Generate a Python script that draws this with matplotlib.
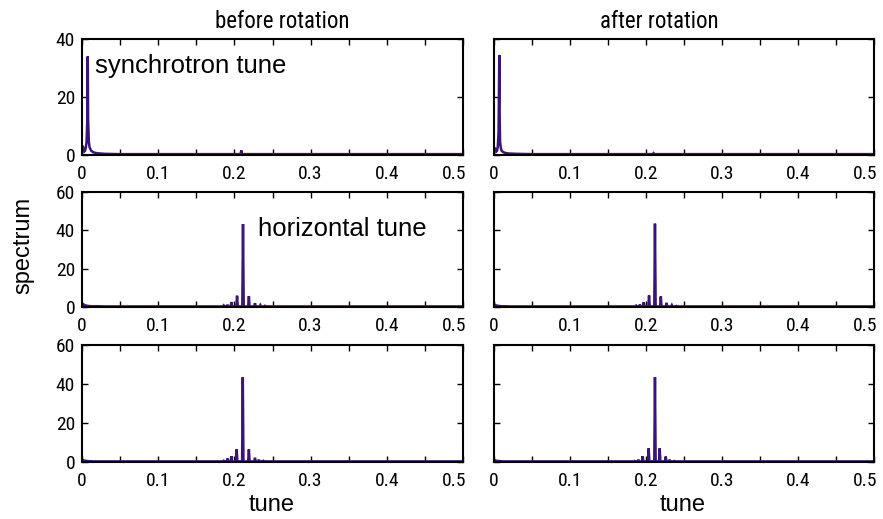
import matplotlib

matplotlib.use("Agg")

import matplotlib.pyplot as plt
from matplotlib.ticker import MultipleLocator
from matplotlib.transforms import ScaledTranslation

# low-tune part of each spectrum (synchrotron region)
low_tune = [0.000, 0.001, 0.002, 0.003, 0.004, 0.005, 0.006, 0.007, 0.0075, 0.008, 0.009,
            0.010, 0.012, 0.015, 0.020, 0.030, 0.050]
sync_before = [2.0, 3.2, 2.0, 1.2, 1.5, 2.5, 4.5, 12.0, 34.0, 12.0, 4.5,
               2.6, 1.5, 0.9, 0.6, 0.4, 0.3]
sync_after = [1.2, 2.5, 2.0, 1.2, 1.5, 2.8, 8.0, 34.5, 12.0, 4.5, 2.4,
              1.5, 1.0, 0.7, 0.5, 0.4, 0.3]
horiz_before_low = [0.8, 1.6, 1.4, 1.0, 0.9, 0.8, 0.7, 0.6, 0.6, 0.5, 0.5,
                    0.5, 0.4, 0.4, 0.4, 0.3, 0.3]
horiz_after_low = [0.5, 1.2, 1.0, 0.8, 0.7, 0.6, 0.6, 0.5, 0.5, 0.5, 0.4,
                   0.4, 0.4, 0.4, 0.3, 0.3, 0.3]
vert_before_low = [0.6, 1.0, 0.9, 0.7, 0.6, 0.6, 0.5, 0.5, 0.5, 0.4, 0.4,
                   0.4, 0.4, 0.3, 0.3, 0.3, 0.3]
vert_after_low = [0.5, 0.9, 0.8, 0.6, 0.6, 0.5, 0.5, 0.5, 0.4, 0.4, 0.4,
                  0.4, 0.3, 0.3, 0.3, 0.3, 0.3]

# narrow lines around the horizontal tune
top_before_lines = [0.209]
top_before_amps = [1.6]
top_after_lines = [0.210]
top_after_amps = [0.6]
mid_before_lines = [0.186, 0.191, 0.196, 0.2035, 0.2113, 0.219, 0.227, 0.234, 0.240]
mid_before_amps = [0.8, 1.2, 2.6, 5.9, 43.3, 5.7, 2.0, 1.0, 0.6]
mid_after_lines = [0.187, 0.192, 0.197, 0.2040, 0.2118, 0.2195, 0.227, 0.234, 0.240]
mid_after_amps = [0.7, 1.3, 2.5, 6.0, 43.5, 5.5, 2.2, 1.0, 0.5]
bot_before_lines = [0.186, 0.191, 0.196, 0.203, 0.211, 0.219, 0.227, 0.232, 0.238]
bot_before_amps = [0.6, 1.8, 3.0, 6.5, 43.5, 6.5, 2.2, 1.2, 0.6]
bot_after_lines = [0.185, 0.190, 0.1956, 0.2035, 0.2118, 0.218, 0.226, 0.231, 0.237]
bot_after_amps = [0.5, 1.2, 3.0, 7.0, 43.5, 7.0, 2.8, 1.2, 0.5]

noise_floor = 0.3
line_color = "#3b1478"
narrow = ["Roboto Condensed", "Liberation Sans", "DejaVu Sans"]
plain = ["Liberation Sans", "DejaVu Sans"]


def build_spectrum(low_amp, lines, amps, half_width=0.0009):
    xs = list(low_tune)
    ys = list(low_amp)
    for t, a in zip(lines, amps):
        xs += [t - half_width, t, t + half_width]
        ys += [noise_floor, a, noise_floor]
    xs.append(0.5)
    ys.append(noise_floor)
    pairs = sorted(zip(xs, ys))
    return [p[0] for p in pairs], [p[1] for p in pairs]


panels = [
    [(sync_before, top_before_lines, top_before_amps), (sync_after, top_after_lines, top_after_amps)],
    [(horiz_before_low, mid_before_lines, mid_before_amps), (horiz_after_low, mid_after_lines, mid_after_amps)],
    [(vert_before_low, bot_before_lines, bot_before_amps), (vert_after_low, bot_after_lines, bot_after_amps)],
]
y_limits = [40, 60, 60]

W, H = 883, 519
col_x = [(82, 463), (494, 874)]
row_y = [(39, 155), (192, 307), (345, 462)]

fig = plt.figure(figsize=(W / 100, H / 100), dpi=100)

for r, row in enumerate(panels):
    for c, (low_amp, lines, amps) in enumerate(row):
        x0, x1 = col_x[c]
        top, bottom = row_y[r]
        ax = fig.add_axes([x0 / W, 1 - bottom / H, (x1 - x0) / W, (bottom - top) / H])
        xs, ys = build_spectrum(low_amp, lines, amps)
        ax.plot(xs, ys, color=line_color, linewidth=1.8, solid_joinstyle="miter")
        ax.set_xlim(0, 0.5)
        ax.set_ylim(0, y_limits[r])
        ax.xaxis.set_major_locator(MultipleLocator(0.1))
        ax.xaxis.set_minor_locator(MultipleLocator(0.05))
        ax.yaxis.set_major_locator(MultipleLocator(20))
        ax.xaxis.set_major_formatter(lambda v, pos: "0" if abs(v) < 1e-9 else f"{v:.1f}")
        ax.tick_params(which="both", direction="in", top=True, right=True,
                       length=4, width=1)
        ax.tick_params(axis="x", pad=7, labelsize=14)
        ax.tick_params(axis="y", pad=5, labelsize=14)
        if c == 1:
            ax.set_yticklabels([])
        fig.canvas.draw()
        for lab in ax.get_xticklabels() + ax.get_yticklabels():
            lab.set_family(narrow)
        # last tune label sits flush against the right edge
        last = [lab for lab in ax.get_xticklabels() if lab.get_text() == "0.5"]
        for lab in last:
            lab.set_horizontalalignment("right")
            lab.set_transform(lab.get_transform() + ScaledTranslation(3 / 100, 0, fig.dpi_scale_trans))
        for sp in ax.spines.values():
            sp.set_linewidth(1.5)

fig.text(282 / W, 1 - 28 / H, "before rotation", ha="center", va="baseline",
         fontsize=16.5, family=narrow)
fig.text(659 / W, 1 - 28 / H, "after rotation", ha="center", va="baseline",
         fontsize=16.5, family=narrow)
fig.text(272 / W, 1 - 505 / H, "tune", ha="center", va="center",
         fontsize=17, family=plain)
fig.text(683 / W, 1 - 505 / H, "tune", ha="center", va="center",
         fontsize=17, family=plain)
fig.text(23 / W, 1 - 245 / H, "spectrum", ha="center", va="center", rotation=90,
         fontsize=17, family=plain)
fig.text(95 / W, 1 - 73 / H, "synchrotron tune", ha="left", va="baseline",
         fontsize=18.5, family=plain)
fig.text(258 / W, 1 - 236 / H, "horizontal tune", ha="left", va="baseline",
         fontsize=18.5, family=plain)

fig.savefig("out.png", dpi=100)
